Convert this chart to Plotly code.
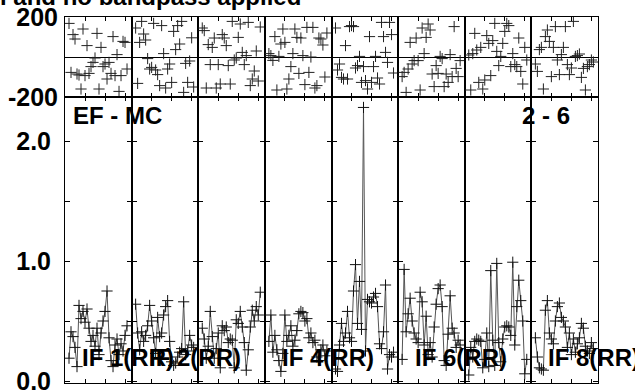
import plotly.graph_objects as go
from plotly.subplots import make_subplots

# figure pixel frame of the plotting area
W, H = 635, 391
L, R, T, B = 65, 598, 17, 383

title_text = "l and no bandpass applied"
baseline_text = "EF - MC"
stokes_text = "2 - 6"
if_labels = ["IF 1(RR)", "IF 2(RR)", "", "IF 4(RR)", "", "IF 6(RR)", "", "IF 8(RR)"]

channels = list(range(2, 32))

phase1 = [168, -77, 112, 90, -85, -90, -160, 140, -93, 57, -82, -48, -27, -5, 118,
          -160, 48, -48, -35, -110, -27, -82, 102, -93, 12, -172, -93, 78, 73, -60]
phase2 = [145, -132, 73, 178, 115, 85, -8, -60, -52, 168, -65, -88, -143, 157, 17,
          -155, -60, -35, -127, 128, 37, 157, 65, 178, -177, -32, -127, -20, 96, -150]
phase3 = [145, 132, -155, 62, -38, 48, 95, -155, -38, -135, 112, 95, 57, -43, -135,
          178, -15, -5, 98, 165, 23, -38, 7, 173, -143, -110, -70, 30, -120, 150]
phase4 = [17, 7, -17, 102, -165, 3, 65, 140, 73, -160, -110, -48, 17, 140, 98,
          -82, 95, 7, -138, 148, -77, 0, 148, -155, -143, 95, 90, 60, -100, 120]
phase5 = [145, -65, -35, -102, -110, 57, -110, 152, 157, 152, -55, -43, 3, -127, -48,
          -118, -160, 102, -127, -48, 3, -105, -135, 173, 102, 23, -27, 173, 112, -80]
phase6 = [-98, -77, -177, -60, 73, -35, -18, 95, -18, -165, 145, 17, 98, 165, 135,
          -85, -148, -43, -82, 3, -8, -148, -85, -127, 12, -98, 152, -57, -98, -18]
phase7 = [10, -165, 17, 118, 35, -127, 48, -160, -115, 107, 68, -93, 82, 168, 28,
          -43, 3, 68, 128, 168, 157, -48, 17, -38, -48, 95, -72, -135, 48, -15]
phase8 = [-35, -72, 37, 48, -160, 102, 135, 78, -98, 48, 152, -15, -88, 12, 48,
          152, -38, -88, -55, 178, 3, 7, 15, -102, -57, -165, -48, -38, -15, -25]

amp1 = [0.19, 0.41, 0.37, 0.28, 0.12, 0.63, 0.52, 0.58, 0.49, 0.60, 0.44, 0.33, 0.38, 0.29, 0.44,
        0.22, 0.40, 0.50, 0.58, 0.75, 0.36, 0.17, 0.12, 0.30, 0.35, 0.22, 0.31, 0.25, 0.38, 0.46]
amp2 = [0.64, 0.40, 0.26, 0.41, 0.33, 0.38, 0.46, 0.63, 0.50, 0.36, 0.23, 0.53, 0.37, 0.40, 0.55,
        0.62, 0.67, 0.33, 0.16, 0.13, 0.15, 0.20, 0.24, 0.27, 0.66, 0.22, 0.25, 0.38, 0.30, 0.28]
amp3 = [0.44, 0.35, 0.19, 0.29, 0.58, 0.37, 0.19, 0.27, 0.40, 0.11, 0.46, 0.42, 0.45, 0.32, 0.35,
        0.34, 0.11, 0.51, 0.48, 0.58, 0.45, 0.32, 0.09, 0.26, 0.45, 0.59, 0.50, 0.62, 0.55, 0.74]
amp4 = [0.33, 0.55, 0.24, 0.38, 0.26, 0.17, 0.08, 0.23, 0.55, 0.33, 0.38, 0.46, 0.29, 0.34, 0.42,
        0.56, 0.58, 0.57, 0.50, 0.52, 0.36, 0.40, 0.32, 0.34, 0.20, 0.17, 0.26, 0.30, 0.21, 0.25]
amp5 = [0.10, 0.08, 0.30, 0.48, 0.33, 0.40, 0.58, 0.36, 0.33, 0.75, 0.97, 0.48, 0.83, 0.43, 2.28,
        0.25, 0.68, 0.66, 0.65, 0.70, 0.73, 0.62, 0.31, 0.27, 0.41, 0.80, 0.10, 0.22, 0.20, 0.24]
amp6 = [0.18, 0.93, 0.41, 0.56, 0.69, 0.50, 0.40, 0.35, 0.32, 0.74, 0.66, 0.30, 0.54, 0.22, 0.32,
        0.20, 0.45, 0.64, 0.77, 0.80, 0.62, 0.17, 0.13, 0.39, 0.71, 0.44, 0.40, 0.28, 0.34, 0.30]
amp7 = [0.05, 0.28, 0.20, 0.33, 0.35, 0.34, 0.33, 0.11, 0.18, 0.40, 0.12, 0.92, 0.34, 0.13, 0.98,
        0.32, 0.16, 0.35, 0.45, 0.46, 0.45, 0.38, 0.99, 0.30, 0.62, 0.84, 0.67, 0.50, 0.06, 0.18]
amp8 = [0.36, 0.20, 0.11, 0.10, 0.09, 0.59, 0.67, 0.40, 0.35, 0.31, 0.50, 0.62, 0.65, 0.53, 0.50,
        0.45, 0.28, 0.40, 0.22, 0.35, 0.24, 0.31, 0.36, 0.48, 0.44, 0.29, 0.25, 0.23, 0.32, 0.27]

phases = [phase1, phase2, phase3, phase4, phase5, phase6, phase7, phase8]
amps = [amp1, amp2, amp3, amp4, amp5, amp6, amp7, amp8]
n_if = len(amps)

FONT = dict(family="Liberation Sans, Arial, sans-serif", size=24, color="black", weight="bold")
TICKFONT = dict(FONT, size=25)


def px_x(px):
    return (px - L) / (R - L)


def px_y(py):
    return (B - py) / (B - T)


fig = make_subplots(rows=2, cols=n_if, horizontal_spacing=0, vertical_spacing=0,
                    row_heights=[80, 286])

for i in range(n_if):
    fig.add_trace(go.Scatter(
        x=channels, y=phases[i], mode="markers",
        marker=dict(symbol="cross-thin", size=8, line=dict(color="#222", width=1)),
        showlegend=False), row=1, col=i + 1)
    fig.add_trace(go.Scatter(
        x=channels, y=amps[i], mode="lines+markers",
        line=dict(color="#555", width=1),
        marker=dict(symbol="cross-thin", size=8, line=dict(color="#111", width=1)),
        showlegend=False), row=2, col=i + 1)

axis_common = dict(showline=True, mirror="ticks", linecolor="black", linewidth=1,
                   showgrid=False, ticks="inside", tickcolor="black", tickwidth=1,
                   automargin=False)

fig.update_xaxes(range=[0, 33.3], tickvals=[0, 10, 20, 30], ticklen=4,
                 showticklabels=False, zeroline=False, **axis_common)
fig.update_yaxes(range=[-200, 200], tickvals=[-200, 200], ticktext=["-200", "200"],
                 ticks="", zeroline=True, zerolinecolor="black", zerolinewidth=1,
                 showticklabels=False, showline=True, mirror=True, linecolor="black",
                 linewidth=1, showgrid=False, automargin=False, row=1)
fig.update_yaxes(range=[-0.0167, 2.367], tickvals=[0, 0.5, 1.0, 1.5, 2.0],
                 ticktext=["0.0", "", "1.0", "", "2.0"], ticklen=5, zeroline=False,
                 showticklabels=False, row=2, **axis_common)
fig.update_yaxes(showticklabels=True, tickfont=TICKFONT, ticklabelstandoff=1,
                 ticklabeloverflow="allow", row=1, col=1)
fig.update_yaxes(showticklabels=True, tickfont=TICKFONT, ticklabelstandoff=8,
                 ticklabeloverflow="allow", row=2, col=1)

annotations = [
    dict(text=title_text, x=px_x(-1), y=px_y(-3), xanchor="left", yanchor="middle"),
    dict(text=baseline_text, x=px_x(72), y=px_y(116), xanchor="left", yanchor="middle"),
    dict(text=stokes_text, x=px_x(571), y=px_y(116), xanchor="right", yanchor="middle"),
]
panel_w = (R - L) / n_if
for i, lab in enumerate(if_labels):
    if lab:
        annotations.append(dict(text=lab, x=px_x(L + i * panel_w + 16), y=px_y(357),
                                xanchor="left", yanchor="middle"))
for a in annotations:
    a.update(xref="paper", yref="paper", showarrow=False, font=FONT, borderpad=0)

fig.update_layout(
    width=W, height=H, autosize=False,
    margin=dict(l=L, r=W - R, t=T, b=H - B, autoexpand=False),
    plot_bgcolor="white", paper_bgcolor="white",
    annotations=annotations,
)

# the page body has a default 8px margin; drop it so the figure sits at the window corner
fig.write_html("out.html", config={"displayModeBar": False},
               post_script="document.body.style.margin='0';")
